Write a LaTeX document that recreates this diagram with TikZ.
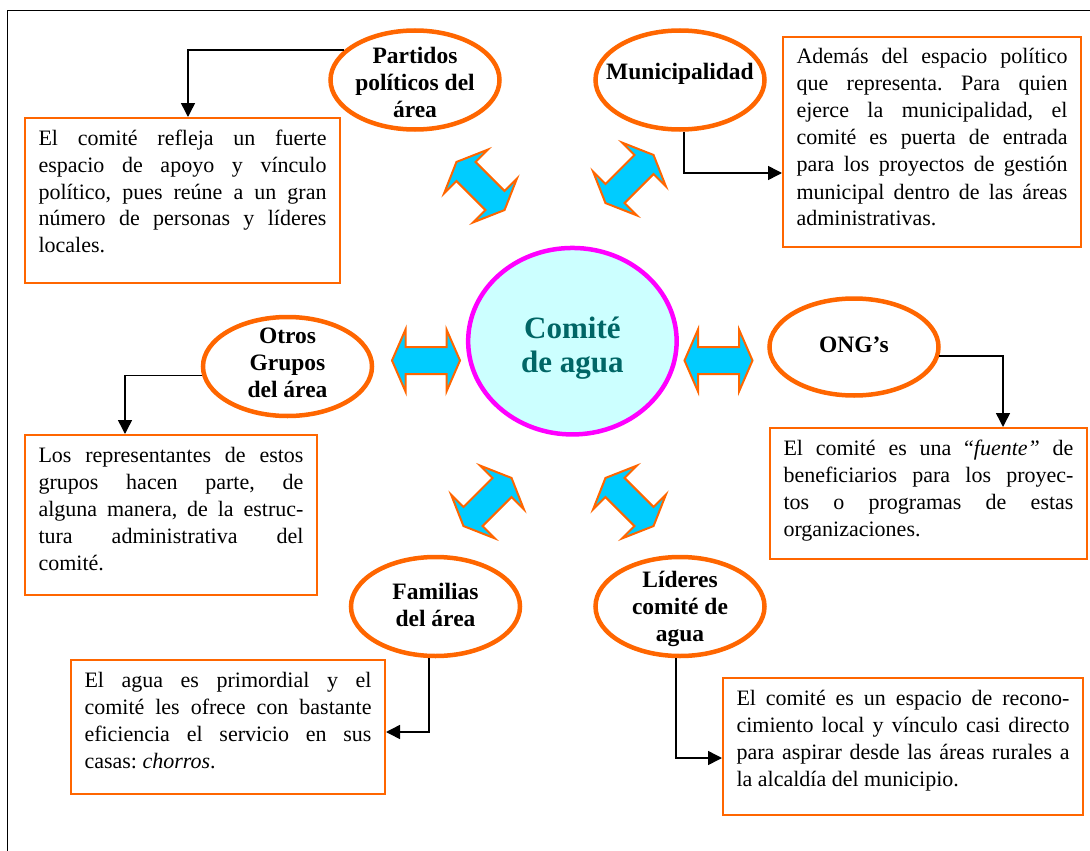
\documentclass[tikz,border=0pt]{standalone}
\usepackage{fontspec}
\setmainfont{Liberation Serif}
\usetikzlibrary{shapes.geometric,arrows.meta}

\definecolor{frameorange}{HTML}{FF6600}
\definecolor{arrowblue}{HTML}{00CCFF}
\definecolor{hubfill}{HTML}{CCFFFF}
\definecolor{hubline}{HTML}{FF00FF}
\definecolor{hubtext}{HTML}{006666}

\tolerance=10000
\hbadness=10000
\frenchspacing

% justified paragraph of fixed size, first baseline 20pt below its top
\newcommand{\infotext}[3]{\parbox[t][#2][t]{#1}{\rule{0pt}{20pt}#3}}

\tikzset{
  actor/.style={ellipse, draw=frameorange, line width=4.5pt,
    minimum width=169pt, minimum height=99pt, inner sep=0pt},
  actorlabel/.style={align=center, inner sep=0pt,
    font=\bfseries\fontsize{23.5}{27}\selectfont},
  infobox/.style={draw=frameorange, line width=2pt, anchor=north west,
    inner xsep=13.5pt, inner ysep=7pt, font=\fontsize{22}{27}\selectfont},
  conn/.style={draw=black, line width=1.5pt,
    -{Triangle[length=14pt,width=14pt]}},
  dblstyle/.style={fill=arrowblue, draw=frameorange, line width=2pt},
  dblarrow/.pic={
    \draw[dblstyle] (-34,0) -- (-20.5,31) -- (-20.5,13.5) -- (20.5,13.5)
      -- (20.5,31) -- (34,0) -- (20.5,-31) -- (20.5,-13.5)
      -- (-20.5,-13.5) -- (-20.5,-31) -- cycle;
  }
}

\begin{document}
\begin{tikzpicture}[x=1pt, y=-1pt]
\useasboundingbox (0,0) rectangle (1090,851);

% open frame: top and left rules
\draw[line width=1.6pt] (1095,10.7) -- (7.3,10.7) -- (7.3,856);

% central hub
\node[ellipse, draw=hubline, fill=hubfill, line width=4.5pt,
      minimum width=208.5pt, minimum height=186.5pt, inner sep=0pt]
      (hub) at (572.4,341.2) {};
\node[align=center, inner sep=0pt, text=hubtext,
      font=\bfseries\fontsize{31}{34}\selectfont]
      (hub-t) at (572.4,348.5) {Comité\\de agua};

% actors around the hub
\node[actor] (partidos) at (415,80) {};
\node[actorlabel] (partidos-t) at (415,82) {Partidos\\políticos del\\área};

\node[actor] (muni) at (680,80) {};
\node[actorlabel] (muni-t) at (680,73.5) {Municipalidad};

\node[actor] (otros) at (287.5,366.5) {};
\node[actorlabel] (otros-t) at (287.5,362.5) {Otros\\Grupos\\del área};

\node[actor, minimum height=97pt] (ong) at (854,347) {};
\node[actorlabel] (ong-t) at (854,345) {ONG’s};

\node[actor] (fam) at (435.5,606.5) {};
\node[actorlabel] (fam-t) at (435.5,605) {Familias\\del área};

\node[actor] (lid) at (680,606.5) {};
\node[actorlabel] (lid-t) at (680,608.5) {Líderes\\comité de\\agua};

% double arrows linking the hub with each actor
\pic[rotate=-45] at (480.5,186) {dblarrow};
\pic[rotate=45]  at (629.5,179) {dblarrow};
\pic at (426,360.5) {dblarrow};
\pic at (718.5,360.5) {dblarrow};
\pic[rotate=45]  at (487.5,502) {dblarrow};
\pic[rotate=-45] at (629.5,502) {dblarrow};

% explanatory boxes
\node[infobox] (b1) at (24,117) {\infotext{288pt}{151pt}{%
El comité refleja un fuerte\linebreak
espacio de apoyo y vínculo\linebreak
político, pues reúne a un gran\linebreak
número de personas y líderes\linebreak
locales.}};

\node[infobox] (b2) at (782,36) {\infotext{271pt}{196pt}{%
Además del espacio político\linebreak
que representa. Para quien\linebreak
ejerce la municipalidad, el\linebreak
comité es puerta de entrada\linebreak
para los proyectos de gestión\linebreak
municipal dentro de las áreas\linebreak
administrativas.}};

\node[infobox] (b3) at (24,434) {\infotext{265pt}{146pt}{%
Los representantes de estos\linebreak
grupos hacen parte, de\linebreak
alguna manera, de la estruc-\linebreak
tura administrativa del\linebreak
comité.}};

\node[infobox] (b4) at (769,427) {\infotext{290pt}{117pt}{%
El comité es una “\textit{fuente”} de\linebreak
beneficiarios para los proyec-\linebreak
tos o programas de estas\linebreak
organizaciones.}};

\node[infobox] (b5) at (70,659) {\infotext{287pt}{120pt}{%
El agua es primordial y el\linebreak
comité les ofrece con bastante\linebreak
eficiencia el servicio en sus\linebreak
casas: \textit{chorros}.}};

\node[infobox] (b6) at (722,677) {\infotext{333pt}{123pt}{%
El comité es un espacio de recono-\linebreak
cimiento local y vínculo casi directo\linebreak
para aspirar desde las áreas rurales a\linebreak
la alcaldía del municipio.}};

% connectors from each actor to its box
\draw[conn] (partidos.157) -| ([xshift=164pt]b1.north west);
\draw[conn] ([xshift=4pt]muni.south) |- ([yshift=-31pt]b2.west);
\draw[conn] (otros.186) -| ([xshift=101pt]b3.north west);
\draw[conn] (ong.354) -| ([xshift=234pt]b4.north west);
\draw[conn] ([xshift=-6.5pt]fam.south) |- ([yshift=-5pt]b5.east);
\draw[conn] ([xshift=-4pt]lid.south) |- ([yshift=-11.5pt]b6.west);
\end{tikzpicture}
\end{document}
